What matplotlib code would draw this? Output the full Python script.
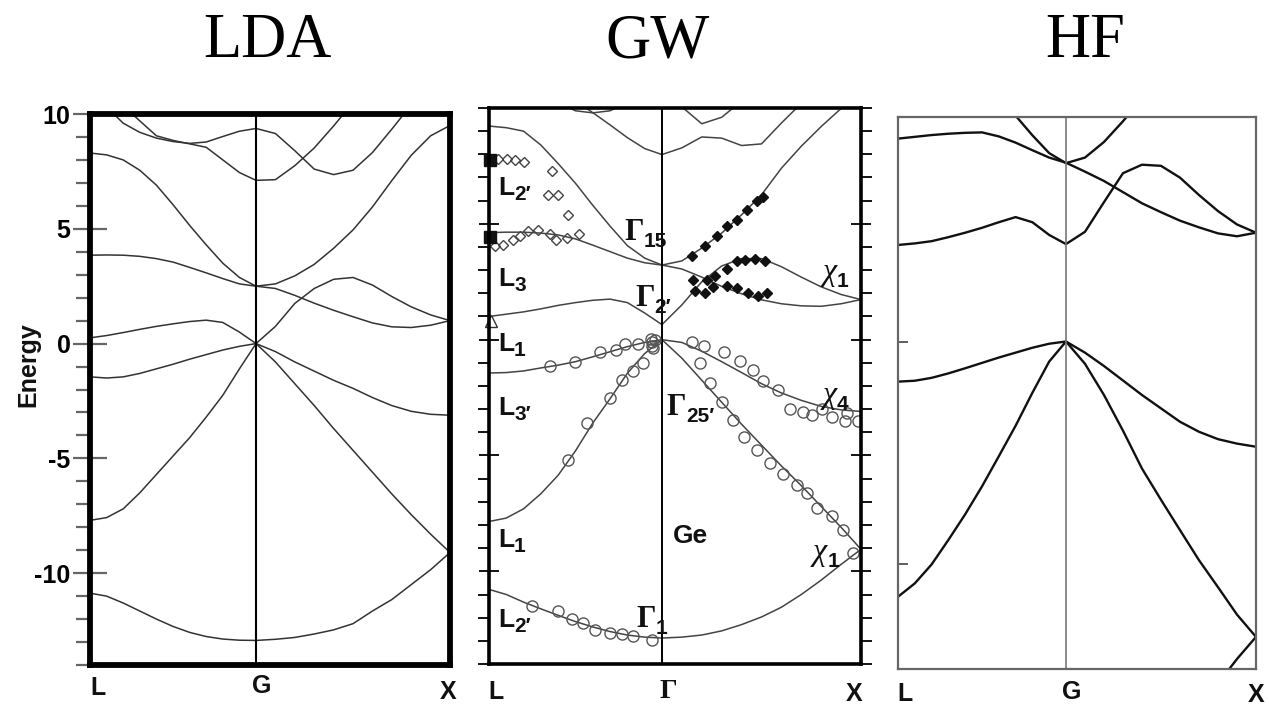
import numpy as np
import matplotlib
matplotlib.use("Agg")
import matplotlib.pyplot as plt

plt.rcParams['font.family'] = ['Liberation Sans', 'DejaVu Sans']

nan = np.nan
# sample points along each segment (fraction of L-G and of G-X)
steps = [0.0, 0.1, 0.2, 0.3, 0.4, 0.5, 0.6, 0.7, 0.8, 0.9, 1.0]

# ---------------- LDA ----------------
lda_seg = (0.856, 1.0)
lda_b1 = [-10.87, -11.0, -11.3, -11.65, -12.0, -12.32, -12.58, -12.76, -12.87, -12.92, -12.93,
          -12.88, -12.8, -12.65, -12.47, -12.2, -11.65, -11.15, -10.5, -9.85, -9.1]
lda_b2 = [-7.7, -7.58, -7.2, -6.5, -5.7, -4.9, -4.1, -3.2, -2.25, -1.1, 0.0,
          -0.8, -1.75, -2.7, -3.7, -4.65, -5.6, -6.55, -7.45, -8.3, -9.1]
lda_b3 = [-1.45, -1.5, -1.45, -1.3, -1.1, -0.9, -0.68, -0.48, -0.28, -0.12, 0.0,
          -0.35, -0.8, -1.2, -1.6, -1.95, -2.35, -2.7, -2.95, -3.08, -3.12]
lda_b4 = [0.25, 0.35, 0.48, 0.62, 0.75, 0.86, 0.96, 1.02, 0.92, 0.5, 0.0,
          0.75, 1.75, 2.4, 2.8, 2.88, 2.55, 2.05, 1.6, 1.25, 1.0]
lda_b5 = [3.85, 3.86, 3.85, 3.8, 3.7, 3.55, 3.32, 3.08, 2.83, 2.6, 2.5,
          2.4, 2.1, 1.76, 1.45, 1.17, 0.9, 0.73, 0.7, 0.8, 1.0]
lda_b6 = [8.3, 8.22, 8.0, 7.55, 6.9, 6.05, 5.15, 4.3, 3.5, 2.88, 2.5,
          2.6, 2.95, 3.45, 4.15, 4.95, 5.95, 7.1, 8.2, 9.05, 9.5]
lda_b7 = [nan, 10.3, 9.6, 9.2, 8.95, 8.8, 8.72, 8.78, 9.02, 9.25, 9.37,
          9.15, 8.4, 7.6, 7.36, 7.55, 8.32, 9.34, 10.4, nan, nan]
lda_b8 = [nan, nan, 10.35, 9.7, 9.05, 8.85, 8.7, 8.55, 8.0, 7.45, 7.11,
          7.14, 7.75, 8.52, 9.48, 10.5, nan, nan, nan, nan, nan]
lda_bands = [lda_b1, lda_b2, lda_b3, lda_b4, lda_b5, lda_b6, lda_b7, lda_b8]

# ---------------- GW ----------------
gw_seg = (0.869, 1.0)
gw_b1 = [-10.78, -11.0, -11.33, -11.62, -11.9, -12.17, -12.4, -12.6, -12.75, -12.84, -12.88,
         -12.84, -12.75, -12.57, -12.3, -11.97, -11.55, -11.0, -10.38, -9.7, -9.05]
gw_b2 = [-7.85, -7.7, -7.3, -6.65, -5.85, -4.8, -3.6, -2.55, -1.45, -0.6, 0.0,
         -0.8, -1.75, -2.7, -3.65, -4.55, -5.45, -6.3, -7.2, -8.1, -9.05]
gw_b3 = [-1.44, -1.42, -1.35, -1.22, -1.1, -0.95, -0.74, -0.52, -0.3, -0.12, 0.0,
         -0.12, -0.5, -0.95, -1.42, -1.9, -2.3, -2.62, -2.88, -3.03, -3.1]
gw_b4 = [1.0, 1.1, 1.2, 1.33, 1.48, 1.6, 1.7, 1.75, 1.6, 1.15, 0.65,
         1.5, 2.5, 3.18, 3.5, 3.5, 3.15, 2.7, 2.28, 1.95, 1.73]
gw_b5 = [4.62, 4.64, 4.64, 4.6, 4.52, 4.35, 4.08, 3.8, 3.52, 3.32, 3.22,
         3.05, 2.7, 2.3, 1.98, 1.72, 1.55, 1.46, 1.44, 1.55, 1.73]
gw_b6 = [9.22, 9.15, 9.0, 8.4, 7.6, 6.75, 5.8, 4.9, 4.06, 3.52, 3.22,
         3.4, 3.95, 4.6, 5.39, 6.25, 7.4, 8.35, 9.2, 9.98, 10.8]
gw_b7 = [nan, nan, nan, nan, nan, 10.3, 9.8, 9.27, 8.72, 8.25, 7.99,
         8.28, 8.75, 8.7, 8.38, 8.45, 9.35, 10.2, nan, nan, nan]
gw_b8 = [nan, nan, nan, nan, 10.25, 9.88, 9.79, 9.88, 10.25, nan, nan,
         nan, nan, nan, nan, nan, nan, nan, nan, nan, nan]
gw_b9 = [nan, nan, nan, nan, nan, nan, nan, nan, nan, nan, nan,
         10.05, 9.32, 9.6, 10.3, nan, nan, nan, nan, nan, nan]
gw_bands = [gw_b1, gw_b2, gw_b3, gw_b4, gw_b5, gw_b6, gw_b7, gw_b8, gw_b9]

# experiment (open circles, valence)
gw_open_k = [0.307, 0.432, 0.558, 0.638, 0.683, 0.749, 0.814, 0.834, 0.82, 0.825,
             0.398, 0.491, 0.608, 0.667, 0.725, 0.775, 0.818,
             1.019, 1.082, 1.182, 1.261, 1.325, 1.378, 1.453, 1.512, 1.579, 1.621,
             1.671, 1.722, 1.789, 1.797, 1.852,
             1.060, 1.111, 1.169, 1.228, 1.283, 1.345, 1.412, 1.479, 1.546, 1.596,
             1.647, 1.722, 1.781, 1.831,
             0.215, 0.348, 0.416, 0.474, 0.533, 0.608, 0.667, 0.725, 0.818]
gw_open_e = [-1.13, -0.97, -0.55, -0.44, -0.18, -0.18, 0.05, 0.0, -0.1, -0.35,
             -5.18, -3.6, -2.52, -1.73, -1.37, -1.01, -0.29,
             -0.12, -0.26, -0.55, -0.94, -1.33, -1.8, -2.16, -2.99, -3.14, -3.24,
             -2.99, -3.34, -3.53, -3.17, -3.49,
             -1.01, -1.87, -2.71, -3.45, -4.18, -4.75, -5.32, -5.79, -6.26, -6.62,
             -7.27, -7.63, -8.2, -9.21,
             -11.49, -11.73, -12.06, -12.24, -12.52, -12.67, -12.69, -12.81, -12.95]
# open diamonds (conduction, L side)
gw_dia_k = [0.047, 0.089, 0.131, 0.177, 0.315, 0.298, 0.345, 0.398,
            0.030, 0.072, 0.122, 0.156, 0.197, 0.248, 0.307, 0.335, 0.390, 0.452]
gw_dia_e = [7.8, 7.8, 7.77, 7.66, 7.27, 6.26, 6.26, 5.4,
            4.03, 4.1, 4.32, 4.46, 4.68, 4.72, 4.58, 4.32, 4.39, 4.56]
# filled diamonds (conduction, G-X)
gw_fill_k = [1.019, 1.085, 1.144, 1.194, 1.245, 1.298, 1.345, 1.378,
             1.136, 1.194, 1.245, 1.286, 1.337, 1.387,
             1.027, 1.035, 1.085, 1.094, 1.127, 1.194, 1.245, 1.303, 1.353, 1.395]
gw_fill_e = [3.63, 4.06, 4.49, 4.89, 5.18, 5.58, 5.97, 6.16,
             2.73, 3.05, 3.38, 3.45, 3.48, 3.38,
             2.59, 2.09, 2.02, 2.59, 2.28, 2.33, 2.23, 2.02, 1.9, 2.02]
gw_sq_k = [0.005, 0.005]
gw_sq_e = [7.74, 4.43]
gw_tri_k = [0.01]
gw_tri_e = [0.82]

# ---------------- HF ----------------
hf_seg = (0.884, 1.0)
hf_b1 = [-1.8, -1.76, -1.63, -1.43, -1.2, -0.96, -0.72, -0.5, -0.28, -0.1, 0.0,
         -0.5, -1.1, -1.75, -2.4, -3.0, -3.6, -4.05, -4.38, -4.58, -4.72]
hf_b2 = [-11.45, -10.85, -10.0, -8.9, -7.75, -6.5, -5.15, -3.78, -2.3, -0.9, 0.0,
         -1.0, -2.4, -4.0, -5.7, -7.1, -8.46, -9.81, -11.02, -12.25, -13.25]
hf_b3 = [nan, nan, nan, nan, nan, nan, nan, nan, nan, nan, nan,
         nan, nan, nan, nan, nan, nan, nan, -15.34, -14.24, -13.25]
hf_b4 = [4.33, 4.4, 4.5, 4.68, 4.88, 5.1, 5.35, 5.58, 5.35, 4.78, 4.37,
         4.92, 6.25, 7.55, 7.93, 7.88, 7.35, 6.57, 5.85, 5.25, 4.88]
hf_b5 = [9.1, 9.18, 9.26, 9.32, 9.36, 9.38, 9.2, 8.92, 8.58, 8.25, 8.02,
         7.62, 7.2, 6.7, 6.2, 5.8, 5.42, 5.12, 4.85, 4.72, 4.88]
hf_b6 = [nan, nan, nan, nan, nan, nan, nan, 10.13, 9.25, 8.45, 8.0,
         8.25, 8.95, 9.88, 10.9, nan, nan, nan, nan, nan, nan]
hf_bands = [hf_b1, hf_b2, hf_b3, hf_b4, hf_b5, hf_b6]


def path_k(lg, gx):
    s = np.array(steps)
    return np.concatenate([s * lg, lg + s[1:] * gx])


def draw_bands(ax, seg, bands, **style):
    k = path_k(*seg)
    for b in bands:
        ax.plot(k, b, **style)
    ax.set_xlim(0, seg[0] + seg[1])
    ax.set_xticks([])


def sym(ax, k, e, base, sub, kind='sans'):
    if kind == 'gamma':
        font = dict(family='Liberation Serif', fontweight='bold', fontsize=22)
    elif kind == 'chi':
        font = dict(family='Liberation Serif', style='italic', fontsize=23)
    else:
        font = dict(family='Liberation Sans', fontweight='bold', fontsize=19)
    t = ax.text(k, e, base, ha='left', va='baseline', color='#111', **font)
    if sub:
        ax.annotate(sub, xy=(1, 0), xycoords=t, xytext=(0, 0), textcoords='offset points',
                    ha='left', va='baseline', fontsize=15, fontweight='bold',
                    family='Liberation Sans', color='#111')


def klabel(ax, k, y, s, family='Liberation Sans', size=18):
    ax.text(k, y, s, transform=ax.get_xaxis_transform(), ha='center', va='top',
            fontsize=size, fontweight='bold', color='#111', family=family)


fig = plt.figure(figsize=(12.69, 7.06), dpi=100)

# LDA panel
ax1 = fig.add_axes([90 / 1269, 1 - 665 / 706, 360 / 1269, 551 / 706])
draw_bands(ax1, lda_seg, lda_bands, color='#333', lw=1.1)
ax1.axvline(lda_seg[0], color='black', lw=1.5)
ax1.set_ylim(-14, 10)
for s in ax1.spines.values():
    s.set_linewidth(4.2)
ax1.set_yticks([-10, -5, 0, 5, 10])
ax1.set_yticklabels(['-10', '-5', '0', '5', '10'])
ax1.set_yticks(list(range(-14, 11)), minor=True)
ax1.tick_params(axis='y', which='major', direction='inout', length=24, width=1.6,
                color='#666', labelsize=18, pad=2)
ax1.tick_params(axis='y', which='minor', direction='out', length=10, width=1.6, color='#666')
for lab in ax1.get_yticklabels():
    lab.set_fontweight('bold')
klabel(ax1, 0.041, -0.02, 'L')
klabel(ax1, 0.887, -0.017, 'G')
klabel(ax1, 1.845, -0.027, 'X')
fig.text(28 / 1269, 1 - 365 / 706, 'Energy', rotation=90, ha='center', va='center',
         fontsize=18, fontweight='bold', color='#111')

# GW panel
ax2 = fig.add_axes([489 / 1269, 1 - 664 / 706, 372 / 1269, 556 / 706])
draw_bands(ax2, gw_seg, gw_bands, color='#444', lw=1.1)
ax2.axvline(gw_seg[0], color='black', lw=1.4)
ax2.set_ylim(-14, 10)
for s in ax2.spines.values():
    s.set_linewidth(2.6)
ax2.set_yticks([-10, -5, 0, 5])
ax2.set_yticks(list(range(-14, 11)), minor=True)
ax2.tick_params(axis='y', which='major', direction='inout', length=15, width=1.3,
                left=True, right=True, labelleft=False)
ax2.tick_params(axis='y', which='minor', direction='out', length=8, width=1.3,
                left=True, right=True)
ax2.plot(gw_open_k, gw_open_e, 'o', ms=8, mfc='none', mec='#555', mew=1.0)
ax2.plot(gw_dia_k, gw_dia_e, 'D', ms=5.5, mfc='none', mec='#444', mew=1.0)
ax2.plot(gw_fill_k, gw_fill_e, 'D', ms=5, color='#111')
ax2.plot(gw_sq_k, gw_sq_e, 's', ms=8, color='#111', clip_on=False)
ax2.plot(gw_tri_k, gw_tri_e, '^', ms=9, mfc='white', mec='#333', mew=1.0, clip_on=False)
sym(ax2, 0.045, 6.26, 'L', '2\u2032')
sym(ax2, 0.678, 4.32, '\u0393', '15', 'gamma')
sym(ax2, 0.045, 2.3, 'L', '3')
sym(ax2, 0.734, 1.44, '\u0393', '2\u2032', 'gamma')
sym(ax2, 1.678, 2.59, '\u03c7', '1', 'chi')
sym(ax2, 0.045, -0.5, 'L', '1')
sym(ax2, 0.045, -3.24, 'L', '3\u2032')
sym(ax2, 0.893, -3.24, '\u0393', '25\u2032', 'gamma')
sym(ax2, 1.678, -2.72, '\u03c7', '4', 'chi')
sym(ax2, 0.925, -8.77, 'Ge', '')
sym(ax2, 0.045, -8.94, 'L', '1')
sym(ax2, 1.628, -9.5, '\u03c7', '1', 'chi')
sym(ax2, 0.045, -12.39, 'L', '2\u2032')
sym(ax2, 0.74, -12.39, '\u0393', '1', 'gamma')
klabel(ax2, 0.035, -0.028, 'L')
klabel(ax2, 0.899, -0.027, '\u0393', family='Liberation Serif', size=20)
klabel(ax2, 1.834, -0.032, 'X')

# HF panel
ax3 = fig.add_axes([898 / 1269, 1 - 669 / 706, 358 / 1269, 552 / 706])
draw_bands(ax3, hf_seg, hf_bands, color='#111', lw=1.7)
ax3.axvline(hf_seg[0], color='#777', lw=1.2)
ax3.set_ylim(-14.69, 10.07)
for s in ax3.spines.values():
    s.set_linewidth(1.6)
    s.set_color('#666')
ax3.set_yticks([-10, 0])
ax3.tick_params(axis='y', direction='in', length=7, width=1.2, color='#444', labelleft=False)
klabel(ax3, 0.037, -0.023, 'L')
klabel(ax3, 0.916, -0.02, 'G')
klabel(ax3, 1.885, -0.026, 'X')

# titles
for x, name in [(267, 'LDA'), (657, 'GW'), (1085, 'HF')]:
    fig.text(x / 1269, 1 - 57 / 706, name, ha='center', va='baseline', fontsize=45,
             family='Liberation Serif', color='black')

fig.savefig('out.png', dpi=100)
